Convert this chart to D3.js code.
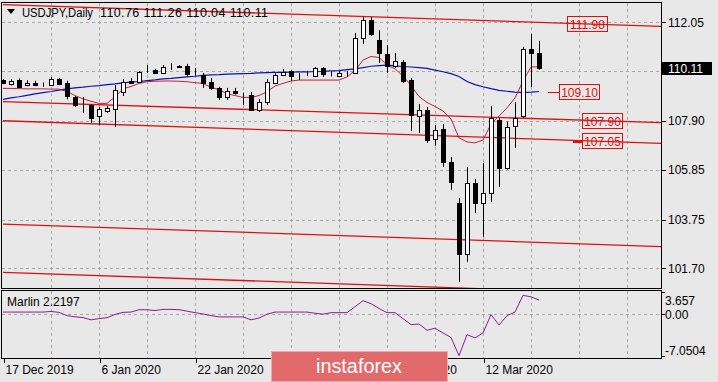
<!DOCTYPE html>
<html><head><meta charset="utf-8">
<script src="https://cdn.jsdelivr.net/npm/d3@7"></script>
<style>
body{margin:0;background:#e8e8e8}
svg{display:block}
text{font-family:"Liberation Sans",Arial,sans-serif}
</style>
</head><body>
<svg id="c" width="718" height="382"></svg>
<script>
// ---------- data ----------
const opens  = [109.60,109.45,109.60,109.40,109.50,109.42,109.40,109.64,109.50,108.91,108.58,108.56,108.10,108.31,108.39,109.11,109.57,109.53,110.02,110.03,109.91,110.16,110.22,110.20,109.90,109.82,109.54,109.26,108.89,109.16,109.00,108.98,108.35,108.70,109.50,109.82,109.99,109.86,109.88,109.78,110.10,109.84,109.78,109.91,109.90,111.38,112.13,111.29,110.71,110.20,110.37,109.61,108.10,108.35,107.13,107.55,106.17,104.45,102.30,105.29,104.45,104.87,107.93,105.92,107.68,108.10,110.92,110.76];
const highs  = [109.66,109.64,109.68,109.60,109.58,109.51,109.73,109.70,109.58,108.94,108.90,108.58,108.48,108.52,109.40,109.66,109.70,109.99,110.24,110.08,110.24,110.33,110.24,110.29,110.12,109.91,109.70,109.33,109.28,109.28,109.08,109.11,108.81,109.66,109.89,110.08,110.03,109.92,110.00,110.16,110.16,109.99,109.99,110.00,111.59,112.26,112.26,111.71,111.08,110.75,110.45,109.70,108.60,108.48,107.72,107.76,106.38,104.66,105.96,105.45,106.13,108.52,108.02,107.86,108.69,111.01,111.55,111.26];
const lows   = [109.44,109.38,109.28,109.35,109.35,109.33,109.38,109.42,108.80,108.48,108.23,107.81,107.72,108.23,107.64,108.94,109.45,109.49,109.91,109.87,109.91,110.03,110.12,109.74,109.78,109.28,109.19,108.77,108.77,109.00,108.56,108.31,108.27,108.56,109.47,109.78,109.58,109.61,109.78,109.74,109.74,109.76,109.76,109.74,109.87,111.13,111.46,110.33,109.91,110.12,109.49,107.47,107.39,106.97,106.84,105.96,104.99,101.13,101.97,104.03,103.02,104.49,105.12,105.85,106.76,108.02,109.32,110.04];
const closes = [109.49,109.57,109.33,109.50,109.40,109.41,109.64,109.44,108.94,108.56,108.55,108.02,108.39,108.44,109.19,109.53,109.49,109.95,110.04,109.91,110.16,110.17,110.15,109.87,109.92,109.47,109.26,108.91,109.16,109.05,108.98,108.35,108.70,109.54,109.82,109.96,109.78,109.88,109.86,110.10,109.87,109.82,109.92,109.92,111.38,112.13,111.55,110.75,110.20,110.41,109.57,108.14,108.35,107.09,107.51,106.17,105.33,102.30,105.29,104.45,104.87,108.02,105.92,107.64,108.02,110.92,110.75,110.11];
const maSlow = [108.80,108.86,108.91,108.97,109.03,109.08,109.13,109.19,109.24,109.28,109.31,109.35,109.38,109.42,109.45,109.49,109.52,109.55,109.59,109.62,109.66,109.68,109.71,109.74,109.77,109.81,109.83,109.84,109.86,109.87,109.88,109.89,109.91,109.92,109.93,109.93,109.94,109.95,109.95,109.97,109.98,110.00,110.01,110.05,110.08,110.13,110.19,110.22,110.24,110.21,110.18,110.16,110.13,110.10,110.03,109.96,109.88,109.76,109.55,109.42,109.33,109.25,109.18,109.14,109.10,109.08,109.10,109.13];
const maFast = [109.26,109.26,109.25,109.24,109.24,109.24,109.23,109.23,109.13,108.96,108.82,108.72,108.63,108.63,108.91,109.24,109.34,109.47,109.54,109.56,109.57,109.57,109.56,109.54,109.50,109.47,109.30,109.21,109.03,108.96,108.88,108.88,108.96,109.12,109.36,109.47,109.57,109.61,109.61,109.61,109.61,109.61,109.61,109.74,110.01,110.45,110.60,110.56,110.24,110.08,109.78,109.38,108.92,108.67,108.50,108.31,107.97,107.18,107.01,106.97,107.09,107.76,108.10,108.44,108.86,109.57,110.16,110.17];
const marlin = [0.30,0.30,0.30,0.30,0.30,0.30,0.40,0.25,-0.30,-0.50,-0.62,-1.00,-0.80,-0.65,-0.10,0.25,0.30,0.69,0.69,0.55,0.75,0.75,0.70,0.45,0.20,-0.02,-0.30,-0.50,-0.51,-0.51,-0.51,-1.00,-0.70,-0.05,0.30,0.30,0.30,0.30,0.30,0.10,-0.05,0.20,0.20,0.20,1.20,2.20,1.70,0.90,0.20,0.20,-0.80,-1.80,-1.70,-2.75,-2.40,-3.20,-3.95,-7.00,-3.48,-4.02,-3.20,-0.12,-1.86,-0.30,0.30,3.10,2.85,2.31];

const priceTicks = [112.05,110.00,107.90,105.85,103.75,101.70];
const priceTickLabels = ["112.05","110.00","107.90","105.85","103.75","101.70"];
const lastPrice = 110.11;
const dateLabelBars = [0,12,24,36,48,60];
const dateLabels = ["17 Dec 2019","6 Jan 2020","22 Jan 2020","7 Feb 2020","25 Feb 2020","12 Mar 2020"];
const trendStartBar = 0, trendEndBar = 82.5;
const trendStartPrice = [112.78,108.70,107.90,103.56,101.53];
const trendEndPrice   = [111.86,107.82,106.95,102.61,100.58];
const levelValues = [111.98,109.10,107.90,107.05];
const levelLabels = ["111.98","109.10","107.90","107.05"];
const marlinTicks = [3.657,0,-7.0504];
const marlinTickLabels = ["3.657","0.00","-7.0504"];
const titleSymbol = "USDJPY,Daily";
const titleOHLC = "110.76 111.26 110.04 110.11";
const indName = "Marlin 2.2197";

// ---------- layout ----------
const svg = d3.select("#c");
const W = 718, H = 382;
const plot = {l:2, r:661, t:3, b:288};
const ind  = {l:2, r:661, t:291, b:358};
const wm = {x:271, y:351, w:176, h:30};
const x = d3.scaleLinear().domain([0,67]).range([3,539]);
const y = d3.scaleLinear().domain([101.70,112.05]).range([268.3,22]);
const yi = d3.scaleLinear().domain([-7.0504,3.657]).range([356,292]);
const RED = "#e01010", MAR = "#c81e3c", BLUE = "#0a14b4", GRID = "#a8a8a8";

svg.append("rect").attr("width",W).attr("height",H).attr("fill","#e8e8e8");

const defs = svg.append("defs");
defs.append("clipPath").attr("id","cp").append("rect")
  .attr("x",plot.l).attr("y",plot.t).attr("width",plot.r-plot.l).attr("height",plot.b-plot.t);
defs.append("clipPath").attr("id","ci").append("rect")
  .attr("x",ind.l).attr("y",ind.t).attr("width",ind.r-ind.l).attr("height",ind.b-ind.t);
defs.append("clipPath").attr("id","cw").append("rect")
  .attr("x",wm.x+wm.w).attr("y",ind.b).attr("width",W).attr("height",H);

const gridBars = d3.range(6, 84, 6);
const px = v => Math.round(v)+0.5;

// main grid
const gMain = svg.append("g").attr("clip-path","url(#cp)");
gMain.selectAll(".vg").data(gridBars).join("line")
  .attr("x1",d=>px(x(d))).attr("x2",d=>px(x(d))).attr("y1",plot.t).attr("y2",plot.b)
  .attr("stroke",GRID).attr("stroke-dasharray","3,3");
gMain.selectAll(".hg").data(priceTicks).join("line")
  .attr("x1",plot.l).attr("x2",plot.r).attr("y1",d=>px(y(d))).attr("y2",d=>px(y(d)))
  .attr("stroke",GRID).attr("stroke-dasharray","3,3");

// trend lines
gMain.selectAll(".tl").data(trendStartPrice).join("line")
  .attr("x1",x(trendStartBar)).attr("y1",d=>y(d))
  .attr("x2",x(trendEndBar)).attr("y2",(d,i)=>y(trendEndPrice[i]))
  .attr("stroke",RED).attr("stroke-width",1.3);

// moving averages
const line = d3.line().x((d,i)=>x(i)).y(d=>y(d));
gMain.append("path").attr("d",line(maSlow)).attr("fill","none").attr("stroke",BLUE).attr("stroke-width",1.2);
gMain.append("path").attr("d",line(maFast)).attr("fill","none").attr("stroke",MAR).attr("stroke-width",1);

// candles
const bars = d3.range(opens.length);
const cg = gMain.append("g");
cg.selectAll(".wk").data(bars).join("line")
  .attr("x1",i=>px(x(i))).attr("x2",i=>px(x(i)))
  .attr("y1",i=>y(highs[i])).attr("y2",i=>y(lows[i]))
  .attr("stroke","#000");
cg.selectAll(".bd").data(bars).join("rect")
  .attr("x",i=>Math.round(x(i))-2+0.5)
  .attr("width",4)
  .attr("y",i=>Math.round(y(Math.max(opens[i],closes[i])))+0.5)
  .attr("height",i=>Math.max(0,Math.round(y(Math.min(opens[i],closes[i])))-Math.round(y(Math.max(opens[i],closes[i])))))
  .attr("fill",i=>closes[i]>=opens[i]?"#fff":"#000")
  .attr("stroke","#000");

// level labels
const lvlPos = [{x:567,w:40},{x:559,w:40},{x:582,w:40},{x:582,w:40}];
svg.append("line").attr("x1",548).attr("x2",559).attr("y1",px(y(levelValues[1]))).attr("y2",px(y(levelValues[1])))
  .attr("stroke",RED);
svg.append("line").attr("x1",573).attr("x2",583).attr("y1",y(levelValues[3])+1).attr("y2",y(levelValues[3])+1)
  .attr("stroke",RED).attr("stroke-width",2);
levelValues.forEach((v,i)=>{
  const cy = Math.round(y(v));
  svg.append("rect").attr("x",lvlPos[i].x+0.5).attr("y",cy-7.5).attr("width",lvlPos[i].w).attr("height",15)
    .attr("fill","none").attr("stroke",RED);
  svg.append("text").attr("x",lvlPos[i].x+lvlPos[i].w/2+0.5).attr("y",cy+4.5).attr("text-anchor","middle")
    .attr("font-size",12).attr("fill",RED).text(levelLabels[i]);
});

// frame main
svg.append("rect").attr("x",plot.l-0.5).attr("y",plot.t-0.5).attr("width",plot.r-plot.l+1).attr("height",plot.b-plot.t+1)
  .attr("fill","none").attr("stroke","#000");

// right axis (the tick label under the last-price box is hidden, as in MT4)
const ra = svg.append("g");
const ly = Math.round(y(lastPrice));
priceTicks.forEach((v,i)=>{
  ra.append("line").attr("x1",plot.r).attr("x2",plot.r+5).attr("y1",px(y(v))).attr("y2",px(y(v))).attr("stroke","#000");
  if (Math.abs(y(v)-ly) > 12)
    ra.append("text").attr("x",668).attr("y",y(v)+4.5).attr("font-size",12).attr("fill","#000").text(priceTickLabels[i]);
});
ra.append("rect").attr("x",662).attr("y",ly-6).attr("width",50).attr("height",13).attr("fill","#000");
ra.append("text").attr("x",668).attr("y",ly+5).attr("font-size",12).attr("fill","#fff").text(lastPrice.toFixed(2));

// title
svg.append("path").attr("d","M7,9 L15,9 L11,14 Z").attr("fill","#000");
svg.append("text").attr("x",22).attr("y",17).attr("font-size",12.5).attr("fill","#000")
  .attr("textLength",71).attr("lengthAdjust","spacingAndGlyphs").text(titleSymbol);
svg.append("text").attr("x",100).attr("y",17).attr("font-size",12.5).attr("fill","#000")
  .attr("textLength",168).attr("lengthAdjust","spacing").text(titleOHLC);

// indicator panel
const gi = svg.append("g").attr("clip-path","url(#ci)");
gi.selectAll(".vg").data(gridBars).join("line")
  .attr("x1",d=>px(x(d))).attr("x2",d=>px(x(d))).attr("y1",ind.t).attr("y2",ind.b)
  .attr("stroke",GRID).attr("stroke-dasharray","3,3");
gi.append("line").attr("x1",ind.l).attr("x2",ind.r).attr("y1",px(yi(0))).attr("y2",px(yi(0)))
  .attr("stroke",GRID).attr("stroke-dasharray","3,3");
gi.append("path").attr("d",d3.line().x((d,i)=>x(i)).y(d=>yi(d))(marlin))
  .attr("fill","none").attr("stroke","#8c1e8c").attr("stroke-width",1);
svg.append("rect").attr("x",ind.l-0.5).attr("y",ind.t-0.5).attr("width",ind.r-ind.l+1).attr("height",ind.b-ind.t+1)
  .attr("fill","none").attr("stroke","#000");
svg.append("text").attr("x",7).attr("y",306).attr("font-size",12).attr("fill","#000").text(indName);
const mlY = [300,314,350];
marlinTicks.forEach((v,i)=>{
  svg.append("line").attr("x1",ind.r).attr("x2",ind.r+4).attr("y1",px(yi(v))).attr("y2",px(yi(v))).attr("stroke","#000");
  svg.append("text").attr("x",665).attr("y",mlY[i]+4.5).attr("font-size",12).attr("fill","#000").text(marlinTickLabels[i]);
});

// date axis (labels covered by the watermark show only their uncovered part)
dateLabelBars.forEach((b,i)=>{
  const xx = px(x(b)+1);
  svg.append("line").attr("x1",xx).attr("x2",xx).attr("y1",ind.b).attr("y2",ind.b+5).attr("stroke","#000");
  const under = xx > wm.x - 5 && xx < wm.x + wm.w;
  if (xx > wm.x - 5 && xx + 60 < wm.x + wm.w) return; // fully hidden
  const t = svg.append("text").attr("x",xx+1).attr("y",373.5).attr("font-size",12).attr("fill","#000").text(dateLabels[i]);
  if (under) t.attr("clip-path","url(#cw)");
});

// watermark
svg.append("rect").attr("x",wm.x+0.5).attr("y",wm.y+0.5).attr("width",wm.w).attr("height",wm.h)
  .attr("fill","#e36a6a").attr("stroke","#f0a8a8");
svg.append("text").attr("x",wm.x+88).attr("y",373).attr("text-anchor","middle")
  .attr("font-family","'Open Sans',sans-serif").attr("font-size",20).attr("fill","#fff")
  .attr("textLength",86).attr("lengthAdjust","spacingAndGlyphs").text("instaforex");
</script>
</body></html>
